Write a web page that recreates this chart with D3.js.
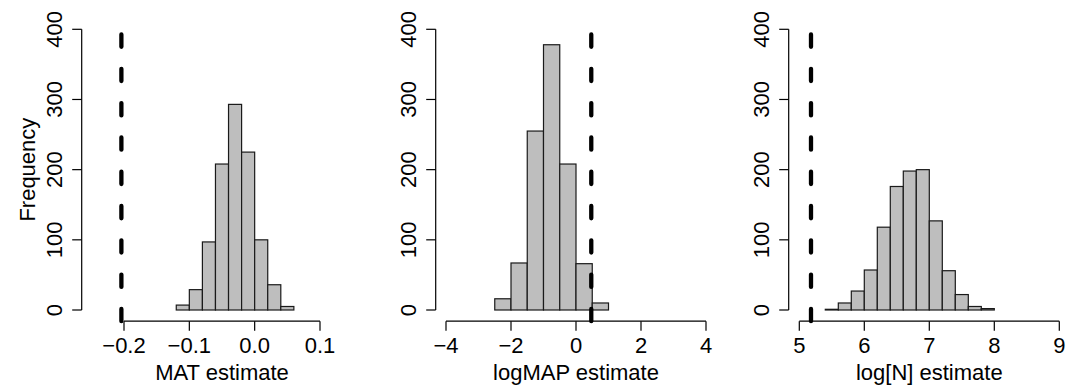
<!DOCTYPE html>
<html>
<head>
<meta charset="utf-8">
<script src="https://cdn.jsdelivr.net/npm/d3@7"></script>
<style>
  body { margin: 0; background: #fff; }
  svg text { font-family: "Liberation Sans", Arial, Helvetica, sans-serif; font-size: 22px; fill: #000; }
</style>
</head>
<body>
<div id="chart"></div>
<script>
'use strict';

// histogram data
const matBreaks = [-0.12, -0.10, -0.08, -0.06, -0.04, -0.02, 0.00, 0.02, 0.04, 0.06];
const matCounts = [7, 29, 97, 208, 293, 225, 100, 36, 5];
const matTicks = [-0.2, -0.1, 0.0, 0.1];
const matTrue = -0.204;

const mapBreaks = [-2.5, -2.0, -1.5, -1.0, -0.5, 0.0, 0.5, 1.0];
const mapCounts = [16, 67, 255, 378, 208, 66, 10];
const mapTicks = [-4, -2, 0, 2, 4];
const mapTrue = 0.47;

const logNBreaks = [5.4, 5.6, 5.8, 6.0, 6.2, 6.4, 6.6, 6.8, 7.0, 7.2, 7.4, 7.6, 7.8, 8.0];
const logNCounts = [1, 10, 27, 57, 118, 176, 198, 200, 127, 56, 22, 5, 2];
const logNTicks = [5, 6, 7, 8, 9];
const logNTrue = 5.18;

const freqTicks = [0, 100, 200, 300, 400];

const panels = [
  {breaks: matBreaks, counts: matCounts, ticks: matTicks, truth: matTrue, title: 'MAT estimate',
   fmt: d3.format('.1f'), yAxisX: 81.7, xRange: [124, 320]},
  {breaks: mapBreaks, counts: mapCounts, ticks: mapTicks, truth: mapTrue, title: 'logMAP estimate',
   fmt: d3.format('d'), yAxisX: 435.7, xRange: [446, 706]},
  {breaks: logNBreaks, counts: logNCounts, ticks: logNTicks, truth: logNTrue, title: 'log[N] estimate',
   fmt: d3.format('d'), yAxisX: 788.7, xRange: [799.3, 1059.3]}
];

const width = 1077, height = 387;
const xAxisY = 321.2;
const y = d3.scaleLinear().domain([0, 400]).range([310, 29.3]);

const svg = d3.select('#chart').append('svg')
  .attr('width', width)
  .attr('height', height);

// R style minus sign
const minus = s => s.replace('-', '\u2212');

panels.forEach(function(p, i){
  const x = d3.scaleLinear()
    .domain([p.ticks[0], p.ticks[p.ticks.length - 1]])
    .range(p.xRange);
  const g = svg.append('g');

  const bins = p.counts.map((c, k) => ({x0: p.breaks[k], x1: p.breaks[k + 1], n: c}));
  g.selectAll('.bar')
    .data(bins)
    .enter()
    .append('rect')
    .attr('class', 'bar')
    .attr('x', d => x(d.x0))
    .attr('y', d => y(d.n))
    .attr('width', d => x(d.x1) - x(d.x0))
    .attr('height', d => y(0) - y(d.n))
    .attr('fill', '#bebebe')
    .attr('stroke', '#1a1a1a')
    .attr('stroke-width', 1.2);

  // y axis, drawn the R way: line over the tick range, ticks to the left
  const ya = g.append('g');
  ya.append('line')
    .attr('x1', p.yAxisX).attr('x2', p.yAxisX)
    .attr('y1', y(400)).attr('y2', y(0))
    .attr('stroke', '#000').attr('stroke-width', 1.2);
  ya.selectAll('.ytick')
    .data(freqTicks)
    .enter()
    .append('line')
    .attr('x1', p.yAxisX - 9.5).attr('x2', p.yAxisX)
    .attr('y1', d => y(d)).attr('y2', d => y(d))
    .attr('stroke', '#000').attr('stroke-width', 1.2);
  ya.selectAll('.ylab')
    .data(freqTicks)
    .enter()
    .append('text')
    .attr('transform', d => `translate(${p.yAxisX - 19.5},${y(d)}) rotate(-90)`)
    .attr('text-anchor', 'middle')
    .text(d => d);

  // x axis
  const xa = g.append('g');
  xa.append('line')
    .attr('x1', x(p.ticks[0])).attr('x2', x(p.ticks[p.ticks.length - 1]))
    .attr('y1', xAxisY).attr('y2', xAxisY)
    .attr('stroke', '#000').attr('stroke-width', 1.2);
  xa.selectAll('.xtick')
    .data(p.ticks)
    .enter()
    .append('line')
    .attr('x1', d => x(d)).attr('x2', d => x(d))
    .attr('y1', xAxisY).attr('y2', xAxisY + 9.5)
    .attr('stroke', '#000').attr('stroke-width', 1.2);
  xa.selectAll('.xlab')
    .data(p.ticks)
    .enter()
    .append('text')
    .attr('x', d => x(d))
    .attr('y', 353)
    .attr('text-anchor', 'middle')
    .text(d => minus(p.fmt(d)));
  xa.append('text')
    .attr('x', (p.xRange[0] + p.xRange[1]) / 2)
    .attr('y', 380)
    .attr('text-anchor', 'middle')
    .text(p.title);

  // true value, dashed, drawn from the bottom up like abline
  g.append('line')
    .attr('x1', x(p.truth)).attr('x2', x(p.truth))
    .attr('y1', xAxisY).attr('y2', 18)
    .attr('stroke', '#000')
    .attr('stroke-width', 4.3)
    .attr('stroke-linecap', 'round')
    .attr('stroke-dasharray', '12.3,22');

  if(i === 0){
    g.append('text')
      .attr('transform', `translate(35,${(y(0) + y(400)) / 2}) rotate(-90)`)
      .attr('text-anchor', 'middle')
      .text('Frequency');
  }
});
</script>
</body>
</html>
